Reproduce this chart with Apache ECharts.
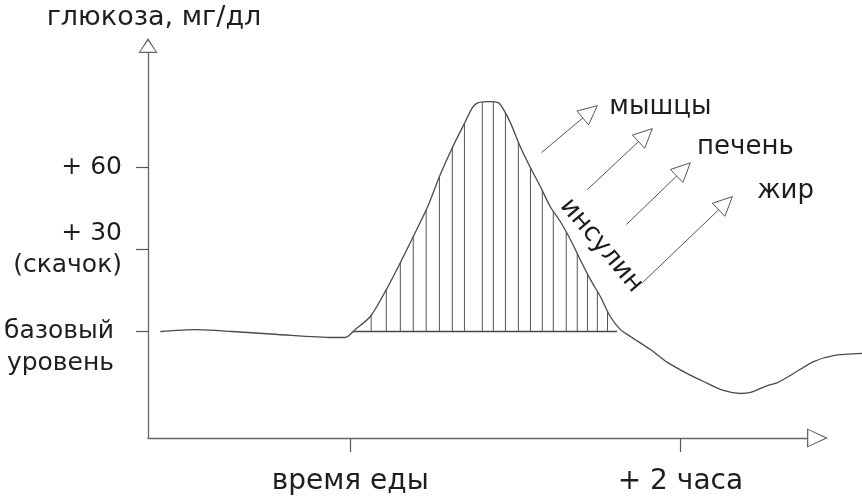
<!DOCTYPE html>
<html><head><meta charset="utf-8">
<script src="https://cdn.jsdelivr.net/npm/echarts@6/dist/echarts.min.js"></script>
<style>html,body{margin:0;padding:0;background:#fff}#c{width:862px;height:501px}</style>
</head><body><div id="c"></div>
<script>
// time relative to the meal (minutes) and glucose above the basal level (mg/dl)
const timeMin = [-69, -56.4, -42.9, -26.2, -6.2, -1.8, 1.8, 7.3, 12.7, 18.2, 23.6, 28, 32.7, 37.1, 41.8, 44.4, 46.5, 50.9, 53.8, 55.3, 58.2, 61.8, 65.5, 69.1, 72.7, 76.4, 80, 83.6, 87.3, 90.9, 94.5, 98.2, 101.8, 109.1, 115.3, 122.5, 128.4, 135.6, 141.8, 145.5, 151.6, 155.3, 161.1, 168.4, 175.6, 186.2];
const glucose = [0, 0.7, 0, -1.1, -2.2, -2.2, 0.7, 5.5, 14.6, 25.2, 36.2, 45.4, 57.4, 67.3, 76.8, 82, 83.8, 84.2, 83.8, 82, 76.5, 67.7, 60, 53.1, 45.7, 40.2, 33.7, 26.3, 19, 12.8, 5.5, 0.7, -1.8, -6.6, -11.3, -15.4, -18.3, -21.6, -22.7, -22.3, -19.8, -18.7, -15.4, -11, -8.8, -8];
// hatching under the spike
const hatchX = [7.6, 13.1, 18.2, 22.9, 27.6, 32.4, 37.1, 41.5, 48, 52, 56.4, 61.1, 65.5, 69.8, 73.8, 78.5, 82.5, 86.2, 89.8, 93.5];
const hatchBase = [1, 97];
// axes
const xTickValues = [0, 120];
const xTickLabels = ['время еды', '+ 2 часа'];
const yTickValues = [0, 30, 60];
const yTickLabels = [' \nбазовый \nуровень ', '+ 30\n(скачок)', '+ 60'];
const yTitle = 'глюкоза, мг/дл';
// insulin arrows and targets
const arrowFrom = [[69.5, 65.5], [86.2, 52], [100.4, 39.2], [106.2, 17.9]];
const arrowTo = [[89.8, 82.7], [109.8, 74.3], [123.6, 61.8], [138.9, 49.4]];
const targetNames = ['мышцы', 'печень', 'жир'];
const targetX = [112.7, 143.6, 158.2];
const targetY = [82.3, 67.3, 51.2];
const hormoneName = 'инсулин';
const hormonePos = [91.3, 31.5];

const FONT = 'DejaVu Sans';
const INK = '#1e1e1e';
const LINE = '#4a4a4a';
const X_MIN = -73.5, X_AXIS_MAX = 166, PX_PER_MIN = (862 - 55 - 148) / (166 + 73.5);
const X_DATA_MAX = X_MIN + (862 - 148) / PX_PER_MIN;

function curveAt(x) {
  for (let i = 0; i < timeMin.length - 1; i++) {
    if (x >= timeMin[i] && x <= timeMin[i + 1]) {
      const t = (x - timeMin[i]) / (timeMin[i + 1] - timeMin[i]);
      return glucose[i] + t * (glucose[i + 1] - glucose[i]);
    }
  }
  return 0;
}

const chart = echarts.init(document.getElementById('c'), null, {renderer: 'canvas'});
const xArrow = 'path://M9.5,0 L19,21 L0,21 Z M9.5,2.9 L1.6,19.7 L17.4,19.7 Z';
const yArrow = 'path://M9.5,0 L19,15 L0,15 Z M9.5,2.8 L1.8,13.7 L17.2,13.7 Z';
const hidden = {axisLine: {show: false}, axisTick: {show: false}, axisLabel: {show: false}, splitLine: {show: false}};

chart.setOption({
  animation: false,
  backgroundColor: '#fff',
  grid: [
    {left: 148, right: 0, top: 53, bottom: 63, containLabel: false},
    {left: 148, right: 55, top: 53, bottom: 63, containLabel: false}
  ],
  xAxis: [
    Object.assign({type: 'value', gridIndex: 0, min: X_MIN, max: X_DATA_MAX}, hidden),
    {
      type: 'value', gridIndex: 1, min: X_MIN, max: X_AXIS_MAX,
      axisLine: {show: true, onZero: false, lineStyle: {color: '#666', width: 1.3},
        symbol: ['none', xArrow], symbolSize: [19, 21], symbolOffset: [0, 10.5]},
      axisTick: {show: true, inside: false, length: 14, customValues: xTickValues, lineStyle: {color: '#555', width: 1.2}},
      axisLabel: {show: true, margin: 30, customValues: xTickValues,
        formatter: v => xTickLabels[xTickValues.indexOf(v)] || '',
        fontFamily: FONT, fontSize: 28, color: INK},
      splitLine: {show: false}
    }
  ],
  yAxis: [
    Object.assign({type: 'value', gridIndex: 0, min: -39, max: 102}, hidden),
    {
      type: 'value', gridIndex: 1, min: -39, max: 102,
      name: yTitle, nameLocation: 'end', nameGap: 22,
      nameTextStyle: {fontFamily: FONT, fontSize: 27, color: INK, padding: [0, 0, 0, 12]},
      axisLine: {show: true, onZero: false, lineStyle: {color: '#666', width: 1.3},
        symbol: ['none', yArrow], symbolSize: [19, 15], symbolOffset: [0, 7.5]},
      axisTick: {show: true, inside: false, length: 12, customValues: yTickValues, lineStyle: {color: '#555', width: 1.2}},
      axisLabel: {show: true, margin: 26, customValues: yTickValues,
        formatter: v => yTickLabels[yTickValues.indexOf(v)] || '',
        fontFamily: FONT, fontSize: 25, lineHeight: 32, color: INK},
      splitLine: {show: false}
    }
  ],
  series: [
    {
      type: 'line', name: 'glucose', xAxisIndex: 0, yAxisIndex: 0,
      data: timeMin.map((t, i) => [t, glucose[i]]),
      showSymbol: false, smooth: 0.25, clip: false,
      lineStyle: {color: LINE, width: 1.3}, z: 5
    },
    {
      type: 'line', name: 'base', xAxisIndex: 0, yAxisIndex: 0,
      data: hatchBase.map(x => [x, 0]),
      showSymbol: false, lineStyle: {color: LINE, width: 1.3}, z: 4
    },
    {
      type: 'custom', name: 'hatch', xAxisIndex: 0, yAxisIndex: 0,
      data: hatchX.map(x => [x, 0]),
      renderItem: (params, api) => {
        const x = api.value(0);
        const p0 = api.coord([x, 0]);
        const p1 = api.coord([x, curveAt(x)]);
        return {type: 'line', shape: {x1: p0[0], y1: p0[1], x2: p1[0], y2: p1[1]},
          style: {stroke: '#555', lineWidth: 1}};
      }, z: 3
    },
    {
      type: 'custom', name: 'arrows', xAxisIndex: 0, yAxisIndex: 0,
      data: arrowFrom.map((f, i) => [f[0], f[1], arrowTo[i][0], arrowTo[i][1]]),
      renderItem: (params, api) => {
        const s = api.coord([api.value(0), api.value(1)]);
        const t = api.coord([api.value(2), api.value(3)]);
        const dx = t[0] - s[0], dy = t[1] - s[1];
        const len = Math.sqrt(dx * dx + dy * dy);
        const ux = dx / len, uy = dy / len;
        const L = 19, W = 9;
        const b = [t[0] - L * ux, t[1] - L * uy];
        const c1 = [b[0] - W * uy, b[1] + W * ux];
        const c2 = [b[0] + W * uy, b[1] - W * ux];
        return {type: 'group', children: [
          {type: 'line', shape: {x1: s[0], y1: s[1], x2: b[0], y2: b[1]}, style: {stroke: '#555', lineWidth: 1}},
          {type: 'polygon', shape: {points: [t, c1, c2]}, style: {fill: '#fff', stroke: '#555', lineWidth: 1}}
        ]};
      }, z: 6
    },
    {
      type: 'custom', name: 'targets', xAxisIndex: 0, yAxisIndex: 0,
      data: targetNames.map((n, i) => [targetX[i], targetY[i]]),
      renderItem: (params, api) => {
        const p = api.coord([api.value(0), api.value(1)]);
        return {type: 'text', x: p[0], y: p[1], style: {text: targetNames[params.dataIndex],
          fontFamily: FONT, fontSize: 26, fill: INK, align: 'center', verticalAlign: 'middle'}};
      }, z: 7
    },
    {
      type: 'custom', name: 'hormone', xAxisIndex: 0, yAxisIndex: 0,
      data: [hormonePos],
      renderItem: (params, api) => {
        const p = api.coord([api.value(0), api.value(1)]);
        return {type: 'text', x: p[0], y: p[1], rotation: -50 * Math.PI / 180,
          style: {text: hormoneName, fontFamily: FONT, fontSize: 26, fill: INK, align: 'center', verticalAlign: 'middle'}};
      }, z: 7
    }
  ]
});
</script>
</body></html>
